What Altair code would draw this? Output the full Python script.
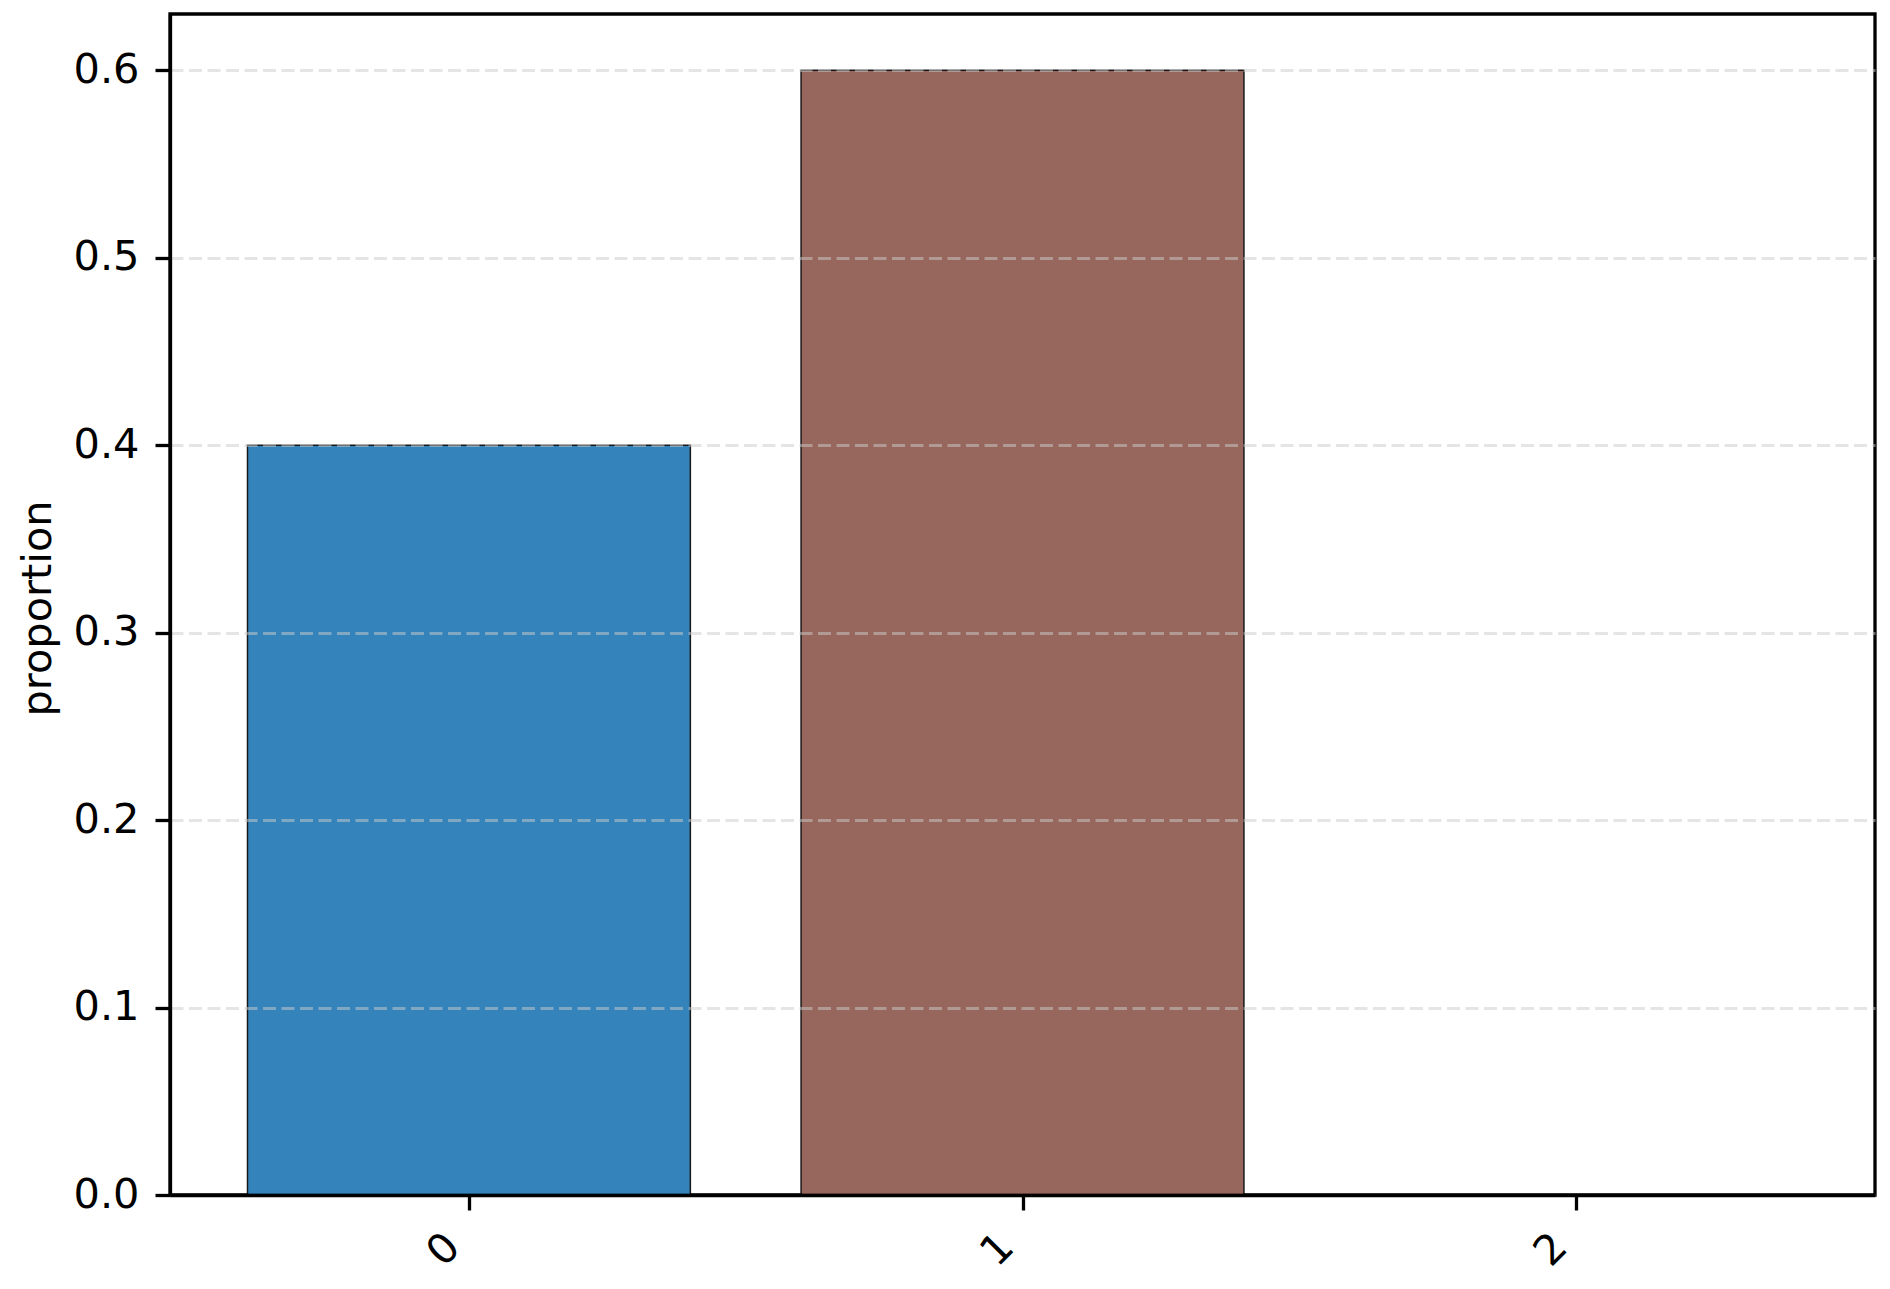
import altair as alt
import pandas as pd

categories = [0, 1, 2]
proportions = [0.4, 0.6, 0.0]
bar_colors = ["#1f77b4", "#8c564b", "#2ca02c"]
y_ticks = [0.0, 0.1, 0.2, 0.3, 0.4, 0.5, 0.6]

df = pd.DataFrame({"category": categories, "proportion": proportions, "color": bar_colors})

FONT = "DejaVu Sans"
FS = 41.5
BAR_HALF = 0.4

bars = alt.Chart(df).transform_calculate(
    x_left=f"datum.category - {BAR_HALF}",
    x_right=f"datum.category + {BAR_HALF}",
    base="0",
).mark_bar(stroke="black", strokeWidth=1.5, opacity=0.9).encode(
    x=alt.X(
        "x_left:Q",
        scale=alt.Scale(domain=[-0.54, 2.54], nice=False, zero=False),
        axis=alt.Axis(
            values=categories,
            format="d",
            title=None,
            grid=False,
            labelAngle=315,
            labelAlign="center",
            labelBaseline="middle",
            labelOffset=-25,
            labelPadding=40,
            labelFont=FONT,
            labelFontSize=FS,
            labelColor="black",
            tickSize=15,
            tickWidth=3.3,
            tickColor="black",
            domainColor="black",
            domainWidth=3.3,
            zindex=1,
        ),
    ),
    x2="x_right:Q",
    y=alt.Y(
        "proportion:Q",
        scale=alt.Scale(domain=[0, 0.63], nice=False),
        axis=alt.Axis(
            values=y_ticks,
            format=".1f",
            title="proportion",
            titleFont=FONT,
            titleFontSize=FS,
            titleFontWeight="normal",
            titleColor="black",
            titleAngle=270,
            titleAlign="center",
            titleBaseline="alphabetic",
            titleX=-120,
            titleY=594,
            labelFont=FONT,
            labelFontSize=FS,
            labelColor="black",
            labelPadding=16,
            tickSize=15,
            tickWidth=3.3,
            tickColor="black",
            domainColor="black",
            domainWidth=3.3,
            grid=True,
            gridColor="#cccccc",
            gridOpacity=0.5,
            gridWidth=2.8,
            gridDash=[13, 5.5],
            zindex=1,
        ),
    ),
    y2="base:Q",
    color=alt.Color("color:N", scale=None),
)

chart = bars.properties(
    width=1705,
    height=1181,
    autosize=alt.AutoSizeParams(type="none"),
    padding={"left": 162, "top": 6, "right": 5, "bottom": 80},
    background="white",
).configure_view(
    stroke="black",
    strokeWidth=3.3,
)

chart.save("out.html", embed_options={"renderer": "svg", "actions": False})
